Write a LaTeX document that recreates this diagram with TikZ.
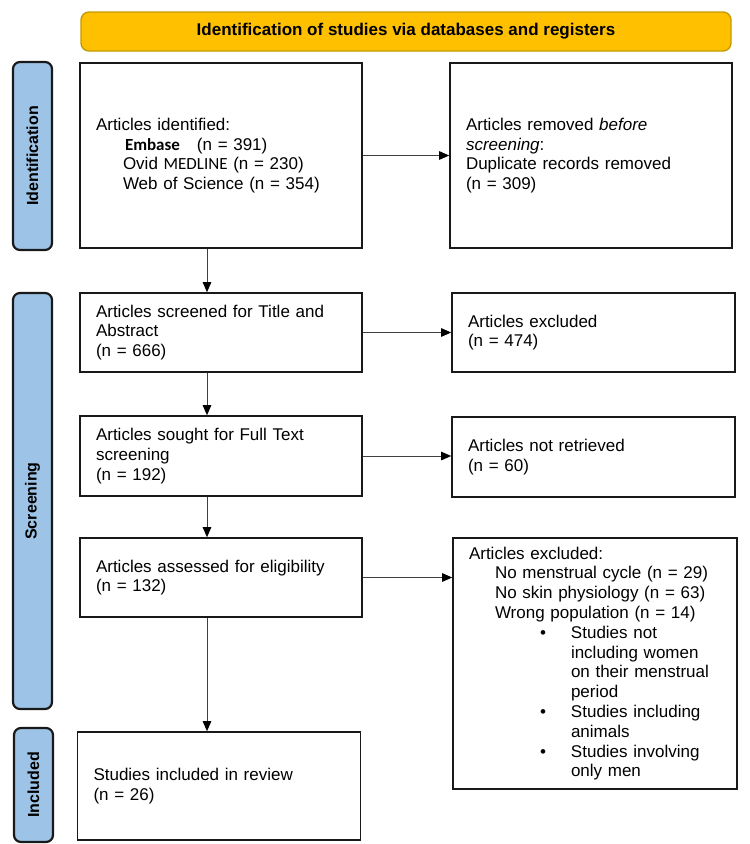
\documentclass[tikz,border=0pt]{standalone}
\usepackage{fontspec}
\setmainfont{Liberation Sans}
\newfontfamily\carlito{Carlito}
\usetikzlibrary{arrows.meta,calc}
\definecolor{gold}{HTML}{FFC000}
\definecolor{golddark}{HTML}{C49A00}
\definecolor{sideblue}{HTML}{9DC3E6}
\definecolor{arrgray}{HTML}{404040}
\begin{document}
\begin{tikzpicture}[x=1pt,y=-1pt,
  box/.style={draw=black!90,line width=1.6pt,align=left,inner xsep=16pt,inner ysep=0pt,
    font=\fontsize{17}{19.8}\selectfont},
  banner/.style={draw=golddark,fill=gold,line width=1.4pt,rounded corners=8pt,
    minimum width=650pt,minimum height=39pt,inner sep=0pt,font=\fontsize{17}{20}\selectfont\bfseries},
  side/.style={draw=black!90,line width=2.2pt,fill=sideblue,rounded corners=7pt,
    font=\fontsize{16}{19}\selectfont\bfseries,rotate=90,inner sep=0pt,minimum height=39pt},
  arr/.style={draw=arrgray,line width=0.9pt,-{Triangle[length=10pt,width=8.5pt,color=black]}}]
\useasboundingbox (0,0) rectangle (750,844);

\node[banner] (ban) at (406,31.5) {Identification of studies via databases and registers};

\node[side,minimum width=188pt] (sid) at (32.5,156) {Identification};
\node[side,minimum width=416pt] (sscr) at (32.5,501) {Screening};
\node[side,minimum width=114pt] (sinc) at (33.5,785) {Included};

\node[box,text width=250pt,minimum height=185pt] (b1) at (221,155.5)
  {Articles identified:\\
   \hspace*{29pt}{\carlito\bfseries Embase}\hspace{17pt}(n = 391)\\
   \hspace*{27pt}Ovid {\carlito MEDLINE} (n = 230)\\
   \hspace*{27pt}Web of Science (n = 354)};
\node[box,text width=250pt,minimum height=185pt] (r1) at (591,155.5)
  {Articles removed \textit{before}\\
   \textit{screening}:\\
   Duplicate records removed\\
   (n = 309)};

\node[box,text width=250pt,minimum height=79pt] (b2) at (221,332.5)
  {Articles screened for Title and\\ Abstract\\ (n = 666)};
\node[box,text width=251pt,minimum height=79pt] (r2) at (593.5,332.5)
  {Articles excluded\\ (n = 474)};

\node[box,text width=250pt,minimum height=80pt] (b3) at (221,456)
  {Articles sought for Full Text\\ screening\\ (n = 192)};
\node[box,text width=251pt,minimum height=80pt] (r3) at (593.5,457)
  {Articles not retrieved\\ (n = 60)};

\node[box,text width=250pt,minimum height=79pt] (b4) at (221,577.5)
  {Articles assessed for eligibility\\ (n = 132)};
\node[box,text width=252pt,minimum height=251pt] (r4) at (595,663.5)
  {Articles excluded:\\
   \hspace*{26pt}No menstrual cycle (n = 29)\\
   \hspace*{26pt}No skin physiology (n = 63)\\
   \hspace*{26pt}Wrong population (n = 14)\\
   \hspace*{71pt}\makebox[31pt][l]{•}Studies not\\
   \hspace*{102pt}including women\\
   \hspace*{102pt}on their menstrual\\
   \hspace*{102pt}period\\
   \hspace*{71pt}\makebox[31pt][l]{•}Studies including\\
   \hspace*{102pt}animals\\
   \hspace*{71pt}\makebox[31pt][l]{•}Studies involving\\
   \hspace*{102pt}only men};

\node[box,text width=251pt,minimum height=108pt] (b5) at (219,786)
  {Studies included in review\\ (n = 26)};

\coordinate (ax) at (207,0);
\draw[arr] (b1.south -| ax) -- (b2.north -| ax);
\draw[arr] (b2.south -| ax) -- (b3.north -| ax);
\draw[arr] (b3.south -| ax) -- (b4.north -| ax);
\draw[arr] (b4.south -| ax) -- (b5.north -| ax);

\draw[arr] (b1.east) -- (b1.east -| r1.west);
\draw[arr] (b2.east) -- (b2.east -| r2.west);
\draw[arr] (b3.east) -- (b3.east -| r3.west);
\draw[arr] (b4.east) -- (b4.east -| r4.west);
\end{tikzpicture}
\end{document}
